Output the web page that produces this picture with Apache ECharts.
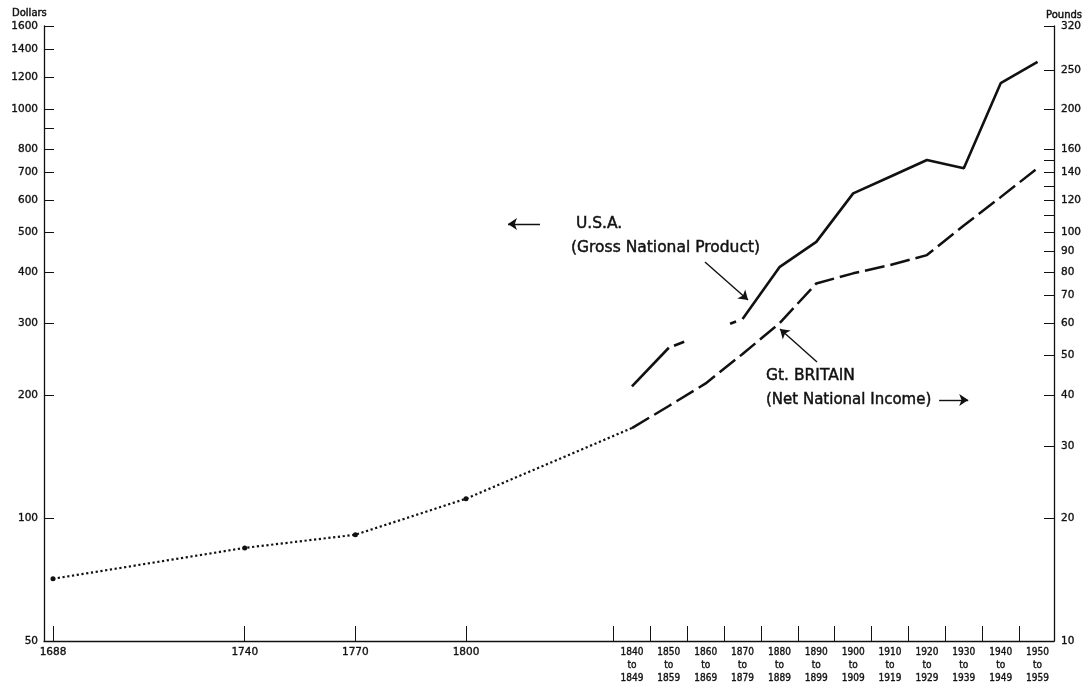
<!DOCTYPE html>
<html>
<head>
<meta charset="utf-8">
<script src="https://cdn.jsdelivr.net/npm/echarts@6/dist/echarts.min.js"></script>
<style>
  html, body { margin: 0; padding: 0; background: #fff; }
  #chart { width: 1087px; height: 686px; }
</style>
</head>
<body>
<div id="chart"></div>
<script>
// Gt. Britain, early estimates of income per head (pounds)
const gbEarlyYears = [1688, 1740, 1770, 1800, 1845];
const gbEarlyPounds = [14.2, 16.9, 18.2, 22.3, 33.2];

// Gt. Britain, net national income per head, decade averages (pounds), plotted at mid-decade
const gbYears = [1845, 1855, 1865, 1875, 1885, 1895, 1905, 1915, 1925, 1935, 1945, 1955];
const gbPounds = [33.2, 37.6, 42.7, 50.4, 59.9, 75, 79.4, 83.2, 88, 104, 122, 143.6];

// U.S.A., gross national product per head (dollars), plotted at mid-decade
const usaYears = [1845, 1855, 1875, 1885, 1895, 1905, 1915, 1925, 1935, 1945, 1955];
const usaDollars = [210, 261, 307, 411, 474, 623, 684, 752, 718, 1159, 1308];

// Axis ticks and labels
const singleYears = [1688, 1740, 1770, 1800];
const decadeStarts = [1840, 1850, 1860, 1870, 1880, 1890, 1900, 1910, 1920, 1930, 1940, 1950];
const dollarLabels = [50, 100, 200, 300, 400, 500, 600, 700, 800, 1000, 1200, 1400, 1600];
const dollarExtraTicks = [900];
const poundLabels = [10, 20, 30, 40, 50, 60, 70, 80, 90, 100, 120, 140, 160, 200, 250, 320];
const poundExtraTicks = [110, 130, 150];

const ink = '#111';
const font = '"DejaVu Sans", "Liberation Sans", sans-serif';
const narrowFont = '"Liberation Sans Narrow", "DejaVu Sans Condensed", "DejaVu Sans", sans-serif';

const decadeMids = decadeStarts.map(y => y + 5);

function pairs(xs, ys, from, to) {
  const out = [];
  for (let i = from; i <= to; i++) out.push([xs[i], ys[i]]);
  return out;
}

const chart = echarts.init(document.getElementById('chart'), null, { renderer: 'canvas' });

const arrowLine = {
  silent: true,
  symbol: ['none', 'arrow'],
  symbolSize: 9,
  label: { show: false },
  emphasis: { disabled: true },
  lineStyle: { color: ink, width: 1.4, type: 'solid' }
};

const plainNumber = v => String(Math.round(v));
// a thin outline in the text colour gives the lettering a heavier stroke
const heavy = { textBorderColor: ink, textBorderWidth: 0.35 };

function note(x, y, text, size) {
  return {
    type: 'text', x: x, y: y,
    style: {
      text: text, font: size + 'px ' + font, fill: ink,
      stroke: ink, lineWidth: 0.45, verticalAlign: 'middle'
    }
  };
}

chart.setOption({
  animation: false,
  backgroundColor: '#fff',
  grid: { left: 44, right: 33, top: 26, bottom: 45, containLabel: false, outerBoundsMode: 'none' },
  xAxis: {
    type: 'value',
    min: 1685.56,
    max: 1959.46,
    splitLine: { show: false },
    axisLine: { show: true, onZero: false, lineStyle: { color: ink, width: 1.3 } },
    axisTick: {
      show: true, inside: true, length: 15,
      customValues: singleYears.concat(decadeStarts),
      lineStyle: { color: ink, width: 1 }
    },
    axisLabel: {
      customValues: singleYears.concat(decadeMids),
      margin: 5,
      color: ink,
      formatter: function (v) {
        const y = Math.round(v);
        if (y < 1840) return '{y|' + y + '}';
        return '{d|' + (y - 5) + '}\n{d|to}\n{d|' + (y + 4) + '}';
      },
      rich: {
        y: Object.assign({ fontFamily: font, fontSize: 10.5, color: ink, lineHeight: 12 }, heavy),
        d: Object.assign({ fontFamily: narrowFont, fontSize: 10, color: ink, lineHeight: 13 }, heavy)
      }
    }
  },
  yAxis: [
    {
      type: 'log', logBase: 10, min: 50, max: 1600, position: 'left',
      splitLine: { show: false },
      axisLine: { show: true, lineStyle: { color: ink, width: 1.3 } },
      axisTick: {
        show: true, inside: true, length: 10,
        customValues: dollarLabels.concat(dollarExtraTicks),
        lineStyle: { color: ink, width: 1 }
      },
      axisLabel: Object.assign({
        customValues: dollarLabels, margin: 6, formatter: plainNumber,
        color: ink, fontFamily: font, fontSize: 10.5
      }, heavy)
    },
    {
      type: 'log', logBase: 10, min: 10, max: 320, position: 'right',
      splitLine: { show: false },
      axisLine: { show: true, lineStyle: { color: ink, width: 1.3 } },
      axisTick: {
        show: true, inside: true, length: 10,
        customValues: poundLabels.concat(poundExtraTicks),
        lineStyle: { color: ink, width: 1 }
      },
      axisLabel: Object.assign({
        customValues: poundLabels, margin: 7, formatter: plainNumber,
        color: ink, fontFamily: font, fontSize: 10.5
      }, heavy)
    }
  ],
  series: [
    {
      name: 'U.S.A. 1840s-1850s', type: 'line', yAxisIndex: 0,
      data: pairs(usaYears, usaDollars, 0, 1),
      symbol: 'none', silent: true,
      lineStyle: { color: ink, width: 2.6, type: 'solid' }
    },
    {
      name: 'U.S.A. 1850s-1870s', type: 'line', yAxisIndex: 0,
      data: pairs(usaYears, usaDollars, 1, 2),
      symbol: 'none', silent: true,
      lineStyle: { color: ink, width: 2.6, type: [10.9, 49.3, 6.4, 100], dashOffset: 161 }
    },
    {
      name: 'U.S.A.', type: 'line', yAxisIndex: 0,
      data: pairs(usaYears, usaDollars, 2, usaYears.length - 1),
      symbol: 'none', silent: true,
      lineStyle: { color: ink, width: 2.6, type: 'solid' },
      markLine: Object.assign({}, arrowLine, {
        data: [
          [{ coord: [1820.07, 524] }, { coord: [1811.39, 524] }],
          [{ coord: [1864.81, 423] }, { coord: [1876.48, 341.6] }]
        ]
      })
    },
    {
      name: 'Gt. Britain early', type: 'line', yAxisIndex: 1,
      data: gbEarlyYears.map((y, i) => ({
        value: [y, gbEarlyPounds[i]],
        symbol: i < gbEarlyYears.length - 1 ? 'circle' : 'none'
      })),
      symbol: 'circle', symbolSize: 5, showSymbol: true, silent: true,
      itemStyle: { color: ink },
      lineStyle: { color: ink, width: 2.2, type: [2.2, 2.6] }
    },
    {
      name: 'Gt. Britain', type: 'line', yAxisIndex: 1,
      data: pairs(gbYears, gbPounds, 0, gbYears.length - 1),
      symbol: 'none', silent: true,
      lineStyle: { color: ink, width: 2.5, type: [20, 6] },
      markLine: Object.assign({}, arrowLine, {
        data: [
          [{ coord: [1895.19, 48.2] }, { coord: [1885.16, 58.0] }],
          [{ coord: [1928.3, 38.9] }, { coord: [1936.2, 38.9] }]
        ]
      })
    }
  ],
  graphic: [
    note(12, 13, 'Dollars', 10),
    note(1046, 15, 'Pounds', 10),
    note(576, 224, 'U.S.A.', 15.5),
    note(571, 248, '(Gross National Product)', 15.5),
    note(766, 376, 'Gt. BRITAIN', 15.5),
    note(766, 400, '(Net National Income)', 15)
  ]
});
</script>
</body>
</html>
